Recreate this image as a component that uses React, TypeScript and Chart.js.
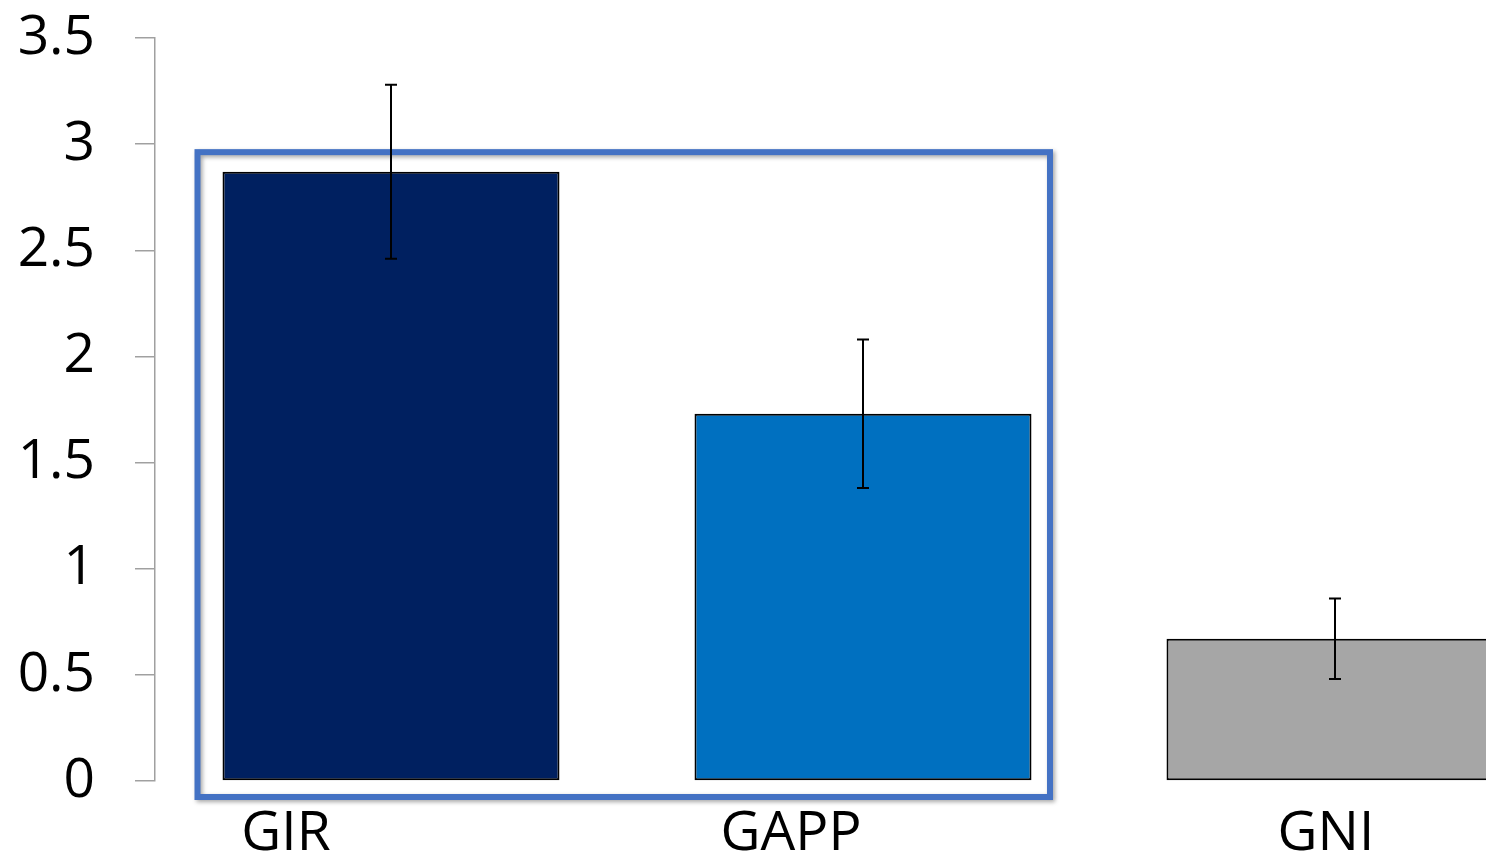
import React, { useEffect, useRef } from "react";
import { Chart, registerables } from "chart.js";

Chart.register(...registerables);

const categories = ["GIR", "GAPP", "GNI"];
const meanValues = [2.87, 1.73, 0.67];
const errorValues = [0.41, 0.35, 0.19];
const barColors = ["#002060", "#0070C0", "#A6A6A6"];
const yTicks = [0, 0.5, 1, 1.5, 2, 2.5, 3, 3.5];

const FONT = "'Open Sans', sans-serif";

const errorBarPlugin = {
  id: "errorBars",
  afterDatasetsDraw(chart: any) {
    const meta = chart.getDatasetMeta(0);
    const y = chart.scales.y;
    const ctx = chart.ctx;
    ctx.save();
    ctx.strokeStyle = "#000";
    ctx.lineWidth = 2;
    meta.data.forEach((bar: any, i: number) => {
      const x = bar.x;
      const top = y.getPixelForValue(meanValues[i] + errorValues[i]);
      const bot = y.getPixelForValue(meanValues[i] - errorValues[i]);
      ctx.beginPath();
      ctx.moveTo(x, top);
      ctx.lineTo(x, bot);
      ctx.moveTo(x - 6, top);
      ctx.lineTo(x + 6, top);
      ctx.moveTo(x - 6, bot);
      ctx.lineTo(x + 6, bot);
      ctx.stroke();
    });
    ctx.restore();
  },
};

const boxPlugin = {
  id: "highlightBox",
  beforeDatasetsDraw(chart: any) {
    const xs = chart.scales.x;
    const ys = chart.scales.y;
    const ctx = chart.ctx;
    const left = xs.getPixelForValue(-0.5) + 42.5;
    const right = xs.getPixelForValue(1.5) - 49;
    const top = ys.getPixelForValue(3) + 8;
    const bottom = ys.getPixelForValue(0) + 16;
    ctx.save();
    ctx.shadowColor = "rgba(0,0,0,0.35)";
    ctx.shadowBlur = 4;
    ctx.shadowOffsetX = 2;
    ctx.shadowOffsetY = 2;
    ctx.strokeStyle = "#4472C4";
    ctx.lineWidth = 6;
    ctx.strokeRect(left, top, right - left, bottom - top);
    ctx.restore();
  },
};

const labelOffsets = [-105, -72, -9];

const xLabelPlugin = {
  id: "xLabels",
  afterDraw(chart: any) {
    const xs = chart.scales.x;
    const ys = chart.scales.y;
    const ctx = chart.ctx;
    ctx.save();
    ctx.fillStyle = "#000";
    ctx.font = `55px ${FONT}`;
    ctx.textAlign = "center";
    ctx.textBaseline = "alphabetic";
    categories.forEach((c, i) => {
      ctx.fillText(c, xs.getPixelForValue(i) + labelOffsets[i], ys.getPixelForValue(0) + 69);
    });
    ctx.restore();
  },
};

export default function App() {
  const ref = useRef<HTMLCanvasElement | null>(null);
  useEffect(() => {
    if (!ref.current) return;
    const chart = new Chart(ref.current, {
      type: "bar",
      data: {
        labels: categories,
        datasets: [
          {
            data: meanValues,
            backgroundColor: barColors,
            borderColor: "#000",
            borderWidth: 2,
            borderSkipped: false,
            barPercentage: 0.714,
            categoryPercentage: 1,
          },
        ],
      },
      options: {
        animation: false,
        responsive: true,
        maintainAspectRatio: false,
        layout: { padding: { top: 38, bottom: 73, left: 0, right: 0 } },
        plugins: { legend: { display: false }, tooltip: { enabled: false } },
        scales: {
          x: { display: false, offset: true },
          y: {
            min: 0,
            max: 3.5,
            afterFit(scale: any) {
              scale.width = 155;
              scale.paddingTop = 0;
              scale.paddingBottom = 0;
            },
            afterBuildTicks(scale: any) {
              scale.ticks = yTicks.map((v) => ({ value: v }));
            },
            ticks: {
              color: "#000",
              font: { family: FONT, size: 55 },
              padding: 40,
              callback: (v: any) => String(v),
            },
            grid: {
              drawOnChartArea: false,
              drawTicks: true,
              tickLength: 20,
              color: "#A0A0A0",
              lineWidth: 1.5,
            },
            border: { color: "#A0A0A0", width: 1.5 },
          },
        },
      },
      plugins: [boxPlugin, errorBarPlugin, xLabelPlugin],
    });
    return () => chart.destroy();
  }, []);
  return (
    <div
      style={{
        position: "fixed",
        left: 0,
        top: 0,
        width: 1486,
        height: 854,
        overflow: "hidden",
        background: "#fff",
      }}
    >
      <div style={{ position: "relative", width: 1571, height: 854 }}>
        <canvas ref={ref} />
      </div>
    </div>
  );
}
